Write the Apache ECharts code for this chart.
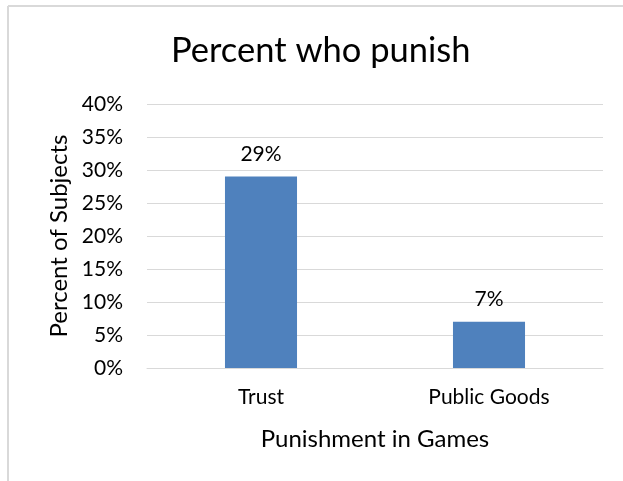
<!DOCTYPE html>
<html><head><meta charset="utf-8">
<script src="https://cdn.jsdelivr.net/npm/echarts@6/dist/echarts.min.js"></script>
<style>html,body{margin:0;padding:0;background:#fff}#c{width:623px;height:481px}</style>
</head><body><div id="c"></div>
<script>
const categories = ['Trust', 'Public Goods'];
const values = [29, 7];
const yTicks = { min: 0, max: 40, interval: 5 };
const FONT = 'Lato, "Open Sans", sans-serif';
const chart = echarts.init(document.getElementById('c'), null, { renderer: 'canvas' });
chart.setOption({
  animation: false,
  backgroundColor: '#fff',
  graphic: [
    { type: 'line', shape: { x1: 8, y1: 6, x2: 623, y2: 6 }, style: { stroke: '#d9d9d9', lineWidth: 2 } },
    { type: 'line', shape: { x1: 8, y1: 6, x2: 8, y2: 481 }, style: { stroke: '#d9d9d9', lineWidth: 2 } }
  ],
  title: {
    text: 'Percent who punish', left: 166, top: 28,
    textStyle: { fontFamily: FONT, fontSize: 34.5, fontWeight: 'normal', color: '#000' }
  },
  grid: { left: 147, right: 20, top: 104, bottom: 113 },
  xAxis: {
    type: 'category', data: categories,
    name: 'Punishment in Games', nameLocation: 'middle', nameGap: 59,
    nameTextStyle: { fontFamily: FONT, fontSize: 24, color: '#000' },
    axisLine: { show: true, lineStyle: { color: '#d9d9d9', width: 1 } },
    axisTick: { show: false },
    axisLabel: { fontFamily: FONT, fontSize: 21, color: '#000', margin: 19 }
  },
  yAxis: {
    type: 'value', min: yTicks.min, max: yTicks.max, interval: yTicks.interval,
    name: 'Percent of Subjects', nameLocation: 'middle', nameGap: 76, nameRotate: 90,
    nameTextStyle: { fontFamily: FONT, fontSize: 24, color: '#000' },
    axisLine: { show: false }, axisTick: { show: false },
    axisLabel: { fontFamily: FONT, fontSize: 21, color: '#000', margin: 24, formatter: '{value}%' },
    splitLine: { lineStyle: { color: '#d9d9d9', width: 1 } }
  },
  series: [{
    type: 'bar', data: values, barWidth: '31.6%',
    itemStyle: { color: '#4f81bd' },
    label: { show: true, position: 'top', distance: 12, formatter: '{c}%', fontFamily: FONT, fontSize: 21, color: '#000' }
  }]
});
</script></body></html>
